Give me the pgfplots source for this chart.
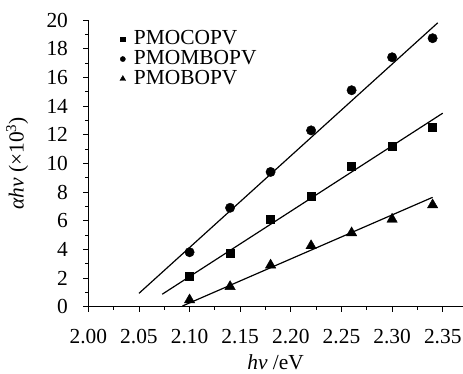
\documentclass[border=0pt]{standalone}
\usepackage{fontspec}
\setmainfont{Liberation Serif}
\usepackage{pgfplots}
\pgfplotsset{compat=1.18}
\begin{document}
\fontsize{21.5}{25}\selectfont
\begin{tikzpicture}
\begin{axis}[
  scale only axis, width=374.7bp, height=286.7bp,
  xmin=2.0, xmax=2.37, ymin=0, ymax=20,
  axis x line*=bottom, axis y line*=left,
  axis line style={line width=0.8pt},
  tick align=outside,
  xtick={2.00,2.05,2.10,2.15,2.20,2.25,2.30,2.35},
  ytick={0,2,4,6,8,10,12,14,16,18,20},
  minor x tick num=1, minor y tick num=1,
  major tick length=5bp, minor tick length=3bp,
  tick style={line width=0.8pt, black},
  /pgf/number format/assume math mode=true,
  xticklabel style={/pgf/number format/fixed,/pgf/number format/fixed zerofill,/pgf/number format/precision=2, yshift=-10bp},
  yticklabel style={xshift=-8bp},
  xlabel={\textit{hν} /eV},
  xlabel style={inner sep=0pt, yshift=-4bp},
  ylabel={\textit{αhν} (×10\textsuperscript{3})},
  ylabel style={yshift=4bp},
  legend style={draw=none, fill=none, at={(rel axis cs:0.076,0.975)}, anchor=north west,
    nodes={inner sep=1.2bp}, row sep=0pt,
    /tikz/every odd column/.append style={column sep=7bp}},
  legend cell align=left,
  legend image code/.code={\draw[#1, mark options={scale=0.55}] plot coordinates {(0cm,0cm)};},
]
\addplot[only marks, mark=square*, mark size=4bp, black] coordinates {
(2.10,2.16) (2.14,3.7) (2.18,6.1) (2.22,7.7) (2.26,9.8) (2.30,11.2) (2.34,12.5)};
\addlegendentry{PMOCOPV}
\addplot[only marks, mark=*, mark size=4.7bp, black] coordinates {
(2.10,3.8) (2.14,6.9) (2.18,9.4) (2.22,12.3) (2.26,15.1) (2.30,17.4) (2.34,18.73)};
\addlegendentry{PMOMBOPV}
\addplot[only marks, mark=triangle*, mark size=6bp, black] coordinates {
(2.10,0.47) (2.14,1.4) (2.18,2.9) (2.22,4.25) (2.26,5.15) (2.30,6.1) (2.34,7.1)};
\addlegendentry{PMOBOPV}
\addplot[no marks, line width=1.2pt, black, forget plot] coordinates {(2.05,0.93) (2.345,19.8)};
\addplot[no marks, line width=1.2pt, black, forget plot] coordinates {(2.073,0.87) (2.35,13.5)};
\addplot[no marks, line width=1.2pt, black, forget plot] coordinates {(2.093,0.05) (2.34,7.63)};
\end{axis}
\pgfresetboundingbox
\path[use as bounding box] ([xshift=-88.3bp,yshift=-67.3bp]current axis.south west) rectangle ([yshift=20bp]current axis.north east);
\end{tikzpicture}
\end{document}
